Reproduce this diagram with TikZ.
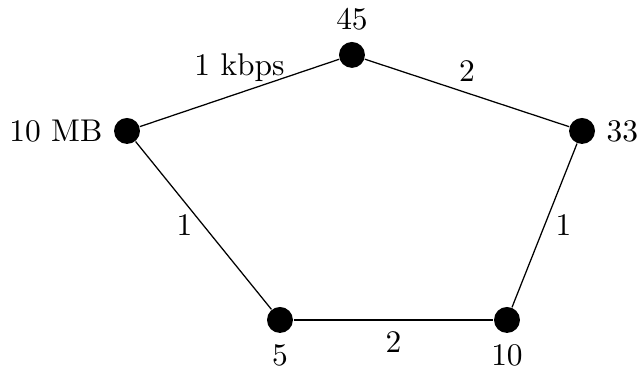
\documentclass[tikz,border=0pt]{standalone}
\usetikzlibrary{positioning}
\begin{document}
\begin{tikzpicture}[vertex/.style={circle, fill=black, minimum size=0.29cm, inner sep=0pt}]
    \useasboundingbox (0,0) rectangle (7.155,4.125);
    % vertices
    \node [vertex, label=above:45] (top) at (3.935,3.511) {};
    \node [vertex, label=left:10 MB] (left) at (1.420,2.661) {};
    \node [vertex, label=right:33] (right) at (6.507,2.661) {};
    \node [vertex, label=below:5] (botleft) at (3.130,0.548) {};
    \node [vertex, label=below:10] (botright) at (5.668,0.548) {};

    % links
    \draw (left) -- node[above] {1 kbps} (top);
    \draw (top) -- node[above] {2} (right);
    \draw (left) -- node[left] {1} (botleft);
    \draw (right) -- node[right] {1} (botright);
    \draw (botleft) -- node[below] {2} (botright);
\end{tikzpicture}
\end{document}
